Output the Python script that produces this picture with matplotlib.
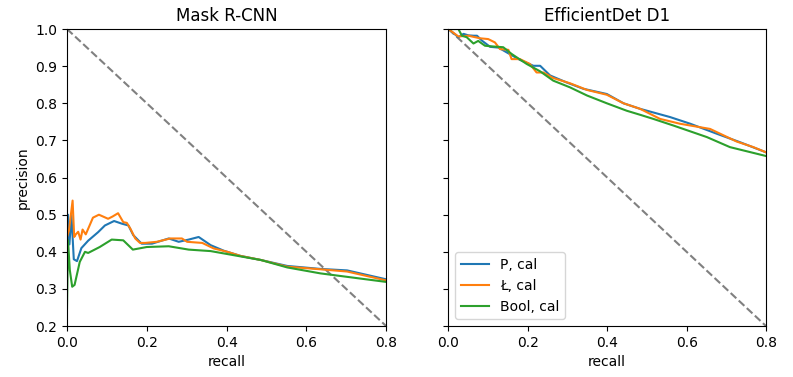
import matplotlib.pyplot as plt

# Mask R-CNN curves
mrcnn_p_recall = [0, 0.0025, 0.006, 0.011, 0.014, 0.017, 0.025, 0.036, 0.053, 0.078, 0.095,
                  0.118, 0.137, 0.154, 0.166, 0.187, 0.213, 0.255, 0.28, 0.305, 0.33,
                  0.36, 0.393, 0.435, 0.486, 0.552, 0.635, 0.702, 0.8]
mrcnn_p_prec = [0.42, 0.5, 0.42, 0.5, 0.44, 0.38, 0.375, 0.41, 0.43, 0.453, 0.471,
                0.483, 0.476, 0.471, 0.445, 0.422, 0.422, 0.436, 0.427, 0.433, 0.44,
                0.418, 0.403, 0.389, 0.378, 0.362, 0.354, 0.35, 0.326]

mrcnn_l_recall = [0, 0.005, 0.014, 0.018, 0.022, 0.028, 0.034, 0.039, 0.047, 0.055, 0.065,
                  0.08, 0.103, 0.114, 0.128, 0.141, 0.15, 0.159, 0.171, 0.183, 0.196,
                  0.225, 0.259, 0.288, 0.301, 0.339, 0.368, 0.402, 0.435, 0.486,
                  0.552, 0.635, 0.702, 0.8]
mrcnn_l_prec = [0.44, 0.458, 0.538, 0.44, 0.447, 0.454, 0.433, 0.46, 0.447, 0.467, 0.492,
                0.5, 0.489, 0.495, 0.504, 0.48, 0.478, 0.462, 0.436, 0.424, 0.424,
                0.427, 0.436, 0.436, 0.427, 0.424, 0.409, 0.4, 0.389, 0.378,
                0.36, 0.353, 0.347, 0.323]

mrcnn_b_recall = [0, 0.0025, 0.007, 0.013, 0.019, 0.032, 0.045, 0.053, 0.082, 0.112, 0.141,
                  0.165, 0.2, 0.255, 0.305, 0.36, 0.402, 0.486, 0.552, 0.635, 0.8]
mrcnn_b_prec = [0.248, 0.431, 0.351, 0.306, 0.311, 0.373, 0.4, 0.397, 0.413, 0.433, 0.431,
                0.406, 0.413, 0.415, 0.406, 0.402, 0.394, 0.378, 0.358, 0.342, 0.319]

# EfficientDet D1 curves
edet_p_recall = [0, 0.025, 0.038, 0.05, 0.063, 0.072, 0.084, 0.105, 0.126, 0.147, 0.18,
                 0.214, 0.231, 0.256, 0.298, 0.34, 0.399, 0.441, 0.483, 0.558, 0.609,
                 0.676, 0.735, 0.8]
edet_p_prec = [1.0, 0.978, 0.987, 0.983, 0.982, 0.982, 0.969, 0.952, 0.95, 0.937, 0.917,
               0.901, 0.901, 0.875, 0.856, 0.839, 0.825, 0.8, 0.785, 0.763, 0.745,
               0.718, 0.695, 0.668]

edet_l_recall = [0, 0.025, 0.05, 0.08, 0.1, 0.117, 0.13, 0.151, 0.159, 0.18, 0.205,
                 0.222, 0.239, 0.264, 0.306, 0.349, 0.399, 0.441, 0.483, 0.533, 0.583,
                 0.659, 0.726, 0.768, 0.8]
edet_l_prec = [1.0, 0.98, 0.982, 0.975, 0.973, 0.964, 0.946, 0.944, 0.919, 0.919, 0.906,
               0.883, 0.883, 0.868, 0.854, 0.836, 0.823, 0.8, 0.785, 0.758, 0.745,
               0.731, 0.697, 0.682, 0.668]

edet_b_recall = [0, 0.025, 0.034, 0.046, 0.063, 0.075, 0.092, 0.113, 0.138, 0.159, 0.197,
                 0.231, 0.264, 0.306, 0.349, 0.399, 0.449, 0.483, 0.516, 0.567, 0.651,
                 0.709, 0.8]
edet_b_prec = [1.0, 1.0, 0.982, 0.978, 0.961, 0.968, 0.955, 0.953, 0.951, 0.933, 0.906,
               0.886, 0.861, 0.843, 0.821, 0.8, 0.78, 0.769, 0.758, 0.74, 0.709,
               0.682, 0.658]

fig = plt.figure(figsize=(7.93, 3.77), dpi=100)
ax1 = fig.add_axes([0.0845, 0.135, 0.4025, 0.788])
ax2 = fig.add_axes([0.5655, 0.135, 0.4005, 0.788], sharey=ax1)

for ax in (ax1, ax2):
    ax.plot([0, 0.8], [1.0, 0.2], '--', color='gray')
    ax.set_xlim(0, 0.8)
    ax.set_ylim(0.2, 1.0)
    ax.set_xlabel('recall')

ax1.plot(mrcnn_p_recall, mrcnn_p_prec, label='P, cal')
ax1.plot(mrcnn_l_recall, mrcnn_l_prec, label='Ł, cal')
ax1.plot(mrcnn_b_recall, mrcnn_b_prec, label='Bool, cal')
ax1.set_title('Mask R-CNN')
ax1.set_ylabel('precision')

ax2.plot(edet_p_recall, edet_p_prec, label='P, cal')
ax2.plot(edet_l_recall, edet_l_prec, label='Ł, cal')
ax2.plot(edet_b_recall, edet_b_prec, label='Bool, cal')
ax2.set_title('EfficientDet D1')
ax2.tick_params(labelleft=False)
ax2.legend(loc='lower left')

fig.savefig('out.png', dpi=100)
